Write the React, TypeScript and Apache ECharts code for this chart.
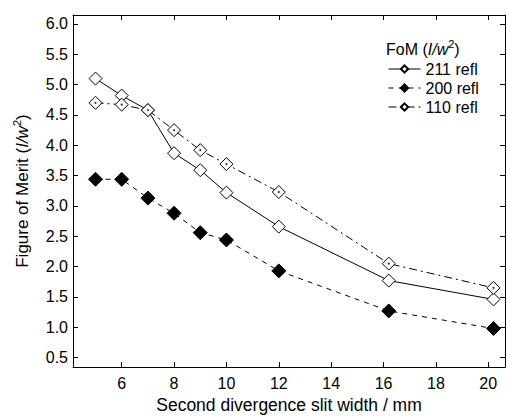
import React, { useEffect, useRef } from "react";
import * as echarts from "echarts";

const xValues = [5, 6, 7, 8, 9, 10, 12, 16.2, 20.2];
const fom211 = [5.1, 4.82, 4.58, 3.87, 3.59, 3.22, 2.66, 1.77, 1.46];
const fom200 = [3.44, 3.44, 3.13, 2.88, 2.56, 2.44, 1.93, 1.27, 0.98];
const fom110 = [4.7, 4.67, 4.58, 4.25, 3.92, 3.69, 3.23, 2.05, 1.65];
const xTicks = [6, 8, 10, 12, 14, 16, 18, 20];
const yTicks = [0.5, 1.0, 1.5, 2.0, 2.5, 3.0, 3.5, 4.0, 4.5, 5.0, 5.5, 6.0];
const seriesNames = ["211 refl", "200 refl", "110 refl"];

const FONT = "'Liberation Sans', Arial, Helvetica, sans-serif";

export default function App() {
  const ref = useRef<HTMLDivElement>(null);
  useEffect(() => {
    if (!ref.current) return;
    const chart = echarts.init(ref.current, undefined, { renderer: "svg" });
    const pairs = (ys: number[]) => xValues.map((x, i) => [x, ys[i]]);
    const axisCommon = {
      axisLine: { show: true, onZero: false, lineStyle: { color: "#000", width: 1 } },
      splitLine: { show: false },
    };
    const supStyle = { fontFamily: FONT, fontSize: 11, color: "#000", verticalAlign: "top", padding: [0, 0, 11, 0] };
    chart.setOption({
      animation: false,
      backgroundColor: "#fff",
      textStyle: { fontFamily: FONT, color: "#000" },
      grid: { left: 73, right: 1, top: 15, bottom: 50, containLabel: false },
      title: {
        text: "FoM ({i|I/w}{s|2})",
        left: 381,
        top: 33,
        textStyle: {
          fontFamily: FONT,
          fontSize: 16,
          fontWeight: "normal",
          color: "#000",
          rich: {
            i: { fontFamily: FONT, fontSize: 16, fontStyle: "italic", color: "#000" },
            s: supStyle,
          },
        },
      },
      legend: {
        data: seriesNames,
        orient: "vertical",
        left: 383,
        top: 56,
        itemWidth: 32,
        itemHeight: 9,
        itemGap: 3,
        lineStyle: { width: 1 },
        textStyle: { fontFamily: FONT, fontSize: 16, color: "#000", lineHeight: 16 },
      },
      xAxis: [
        {
          type: "value",
          min: 4.14,
          max: 20.64,
          position: "bottom",
          ...axisCommon,
          axisTick: { show: true, inside: true, length: 5, customValues: xTicks, lineStyle: { color: "#000" } },
          axisLabel: { show: true, customValues: xTicks, fontSize: 16, color: "#000", fontFamily: FONT, margin: 8 },
          name: "Second divergence slit width / mm",
          nameLocation: "middle",
          nameGap: 27,
          nameTextStyle: { fontSize: 17.5, color: "#000", fontFamily: FONT },
        },
        {
          type: "value",
          min: 4.14,
          max: 20.64,
          position: "top",
          ...axisCommon,
          axisTick: { show: true, inside: true, length: 5, customValues: xTicks, lineStyle: { color: "#000" } },
          axisLabel: { show: false },
        },
      ],
      yAxis: [
        {
          type: "value",
          min: 0.344,
          max: 6.148,
          position: "left",
          ...axisCommon,
          axisTick: { show: true, inside: true, length: 5, customValues: yTicks, lineStyle: { color: "#000" } },
          axisLabel: {
            show: true,
            customValues: yTicks,
            fontSize: 16,
            color: "#000",
            fontFamily: FONT,
            margin: 5,
            formatter: (v: number) => v.toFixed(1),
          },
          name: "Figure of Merit ({i|I/w}{s|2})",
          nameLocation: "middle",
          nameGap: 40,
          nameTextStyle: {
            fontSize: 17,
            color: "#000",
            fontFamily: FONT,
            rich: {
              i: { fontFamily: FONT, fontSize: 17, fontStyle: "italic", color: "#000" },
              s: supStyle,
            },
          },
        },
        {
          type: "value",
          min: 0.344,
          max: 6.148,
          position: "right",
          ...axisCommon,
          axisTick: { show: true, inside: true, length: 5, customValues: yTicks, lineStyle: { color: "#000" } },
          axisLabel: { show: false },
        },
      ],
      series: [
        {
          name: seriesNames[0],
          type: "line",
          data: pairs(fom211),
          symbol: "diamond",
          symbolSize: 13,
          showAllSymbol: true,
          lineStyle: { color: "#000", width: 1, type: "solid" },
          itemStyle: { color: "#fff", borderColor: "#000", borderWidth: 1 },
        },
        {
          name: seriesNames[1],
          type: "line",
          data: pairs(fom200),
          symbol: "diamond",
          symbolSize: 14,
          showAllSymbol: true,
          lineStyle: { color: "#000", width: 1, type: [5, 5] },
          itemStyle: { color: "#000", borderColor: "#000", borderWidth: 1 },
        },
        {
          name: seriesNames[2],
          type: "line",
          data: pairs(fom110),
          symbol: "diamond",
          symbolSize: 13,
          showAllSymbol: true,
          lineStyle: { color: "#000", width: 1, type: [8, 4, 2, 4] },
          itemStyle: { color: "#fff", borderColor: "#000", borderWidth: 1 },
        },
        {
          name: "110 dots",
          type: "scatter",
          data: pairs(fom110),
          symbol: "circle",
          symbolSize: 2,
          itemStyle: { color: "#000" },
          z: 5,
        },
      ],
    });
    return () => chart.dispose();
  }, []);
  return (
    <div
      ref={ref}
      style={{ position: "fixed", left: 0, top: 0, width: 506, height: 419, background: "#fff" }}
    />
  );
}
